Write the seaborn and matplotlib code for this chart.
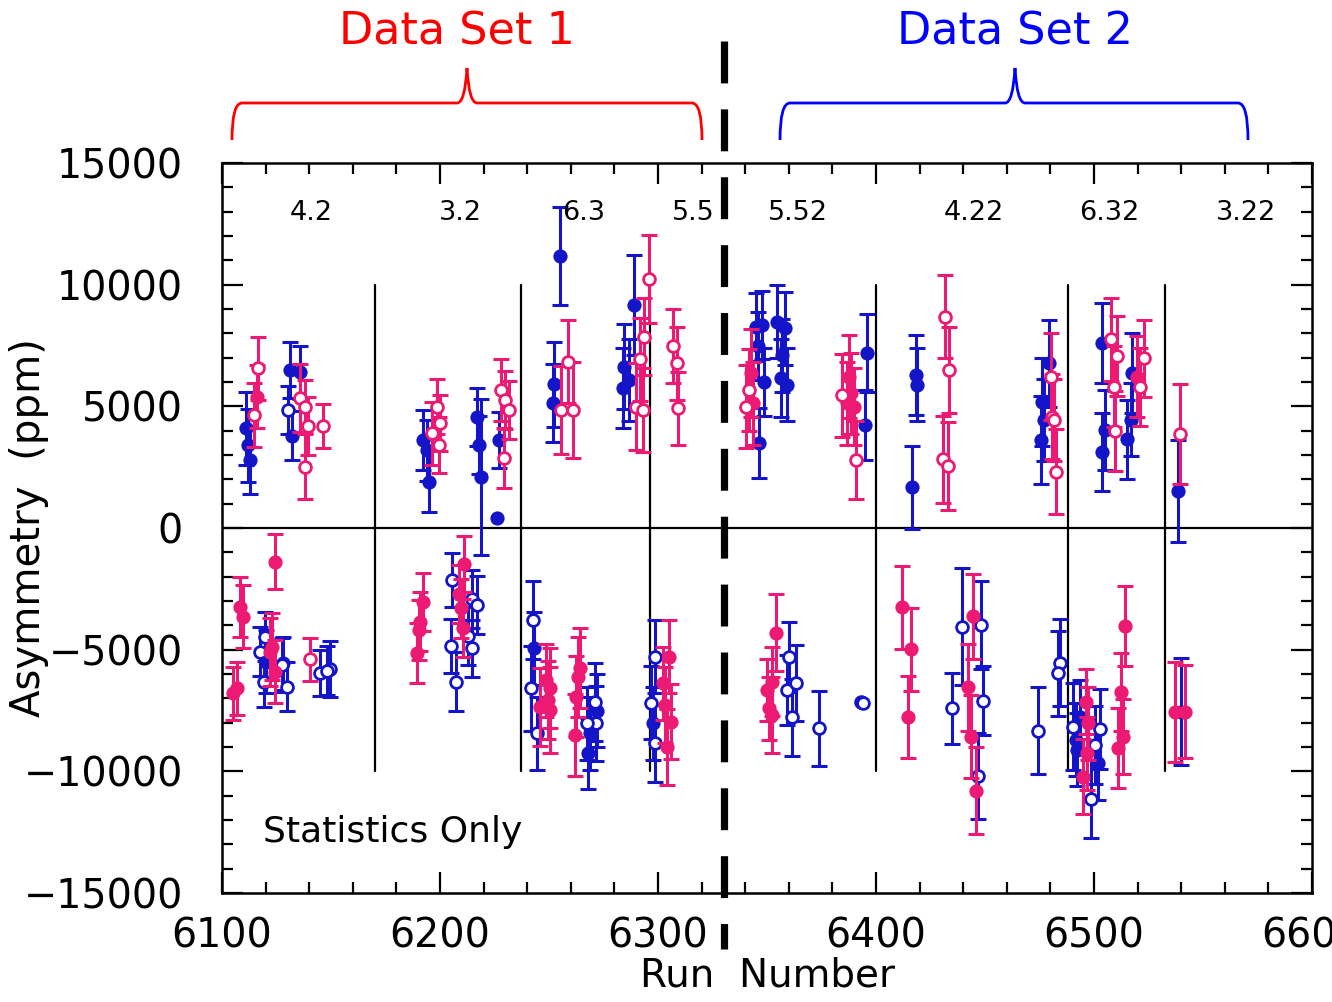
import numpy as np
import pandas as pd
import matplotlib
matplotlib.use("Agg")
import matplotlib.pyplot as plt
from matplotlib.path import Path
from matplotlib.patches import PathPatch
from matplotlib.ticker import MultipleLocator
import seaborn as sns

# ---- measurements: run number, asymmetry (ppm), statistical error (ppm) ----
blue_filled_run = [6111, 6112, 6113, 6131, 6136, 6132, 6192, 6194, 6195, 6217, 6218, 6219,
                   6226, 6227, 6255, 6252.5, 6252, 6289, 6284.5, 6284, 6286.5,
                   6346.4, 6345, 6347.7, 6346, 6348.7, 6354.8, 6358.4, 6357, 6356.4, 6359.4,
                   6396, 6394.8, 6418.2, 6418.9, 6416.3, 6475.5, 6476.2, 6477, 6479.3,
                   6503.7, 6503.7, 6505, 6517.5, 6516.8, 6515.2, 6538.5,
                   6120, 6128.2, 6243, 6268.6, 6267.8, 6272, 6297.6,
                   6491.8, 6493.4, 6492, 6502, 6540]
blue_filled_asym = [4100, 3400, 2800, 6500, 6400, 3800, 3600, 3200, 1900, 4570, 3400, 2100,
                    400, 3600, 11180, 5900, 5150, 9160, 6630, 5740, 6080,
                    3500, 8270, 8340, 7480, 6010, 8480, 8200, 7100, 6150, 5880,
                    7200, 4230, 6290, 5880, 1670, 3620, 5190, 4440, 6770,
                    7590, 3140, 4030, 6380, 4440, 3640, 1530,
                    -5490, -5560, -4940, -8440, -9260, -7500, -8030,
                    -8710, -7750, -9120, -9670, -7550]
blue_filled_err = [1500, 1500, 1400, 1150, 1100, 1000, 1230, 1250, 1250, 1200, 1200, 3200,
                   0, 1150, 2000, 1750, 1600, 2050, 1750, 1650, 1700,
                   1450, 1400, 1400, 1400, 1400, 1500, 1500, 1500, 1600, 1500,
                   1600, 1450, 1650, 1500, 1700, 1800, 1800, 1700, 1780,
                   1650, 1600, 1650, 1650, 1500, 1630, 2100,
                   1300, 1100, 1500, 1500, 1450, 1500, 1500,
                   1500, 1500, 1500, 1500, 2200]

blue_open_run = [6130.2,
                 6117.6, 6119.1, 6119.6, 6127.5, 6129.8, 6145, 6149.6, 6148,
                 6205.4, 6205.1, 6207.4, 6214.5, 6216.8, 6213, 6214.9,
                 6242.6, 6241.9, 6244.5, 6270.9, 6271.6, 6267.3, 6298.4, 6296.8, 6298.4,
                 6360.2, 6359.4, 6363.2, 6361.3, 6373.9, 6393, 6394,
                 6434.7, 6439.6, 6448.1, 6448.9, 6446.6, 6474.5, 6484.2, 6483.7,
                 6490.3, 6498.7, 6500.3, 6502.6]
blue_open_asym = [4850,
                  -5080, -6310, -4470, -5630, -6520, -5970, -5810, -5860,
                  -2140, -4850, -6310, -2930, -3160, -4440, -4940,
                  -3780, -6590, -8440, -7140, -8030, -8030, -5290, -7180, -8850,
                  -5310, -6660, -6380, -7780, -8230, -7150, -7200,
                  -7410, -4050, -3990, -7090, -10190, -8330, -5530, -5970,
                  -8160, -11150, -8920, -8270]
blue_open_err = [1000,
                 1000, 1030, 1000, 1100, 1000, 950, 1150, 1000,
                 1100, 1120, 1200, 1200, 1200, 1200, 1170,
                 1600, 1740, 1500, 1600, 1550, 1500, 1500, 1500, 1580,
                 1450, 1450, 1570, 1590, 1550, 0, 0,
                 1460, 2400, 1820, 1420, 1780, 1800, 1780, 1750,
                 1800, 1600, 1600, 1650]

pink_filled_run = [6116,
                   6342.6, 6343.4, 6387.6, 6388.4, 6386.9, 6390, 6519.8,
                   6108.4, 6109.5, 6106.9, 6105, 6124.1, 6122.9, 6122, 6124.4,
                   6192.4, 6190.9, 6190.5, 6189.3, 6211.2, 6208.7, 6209.7, 6210.7,
                   6248.7, 6250.3, 6249.5, 6250.3, 6246, 6264, 6263.2, 6262.2, 6261.7,
                   6305.2, 6302.2, 6303, 6306, 6304,
                   6354.1, 6350.2, 6352.5, 6351, 6352.5, 6411.8, 6415.9, 6414.8,
                   6442.4, 6444.6, 6443.5, 6445.8, 6496.4, 6497.2, 6496.9, 6494.9,
                   6514.1, 6512.3, 6513.3, 6511, 6537.1, 6541.7]
pink_filled_asym = [5400,
                    6360, 5120, 6220, 5530, 5120, 4990, 6220,
                    -3260, -3640, -6590, -6800, -1380, -4880, -5080, -5900,
                    -3030, -3850, -4190, -5120, -1490, -2710, -3300, -4120,
                    -6250, -6590, -7070, -7480, -7340, -5770, -6110, -6930, -8510,
                    -5290, -6380, -7270, -7960, -8990,
                    -4300, -6660, -6310, -7410, -7680, -3260, -4990, -7780,
                    -6550, -3620, -8570, -10790, -7140, -8030, -9260, -10220,
                    -4030, -6730, -8570, -9050, -7550, -7550]
pink_filled_err = [1300,
                   1800, 1700, 1700, 1650, 1700, 1580, 1650,
                   1230, 1300, 1100, 1100, 1130, 1370, 1400, 1300,
                   1200, 1200, 1250, 1230, 1160, 1200, 1200, 1200,
                   1500, 1640, 1600, 1780, 1600, 1640, 1650, 1650, 1690,
                   1500, 1500, 1550, 1550, 1570,
                   1590, 1260, 1400, 1300, 1550, 1700, 1690, 1690,
                   1780, 1750, 1700, 1780, 1340, 1500, 1500, 1530,
                   1640, 1600, 1550, 1640, 2050, 1920]

pink_open_run = [6114.5, 6116.5, 6135.9, 6137.9, 6139.4, 6138.2, 6146.3,
                 6196.5, 6198.5, 6200, 6199.6, 6227.9, 6230, 6231.6, 6229.2,
                 6258.6, 6255.6, 6261.2, 6293.8, 6291.8, 6289.7, 6293, 6296,
                 6306.8, 6308.6, 6309.1,
                 6340.3, 6341.9, 6384.6, 6390.7, 6431.7, 6433.5, 6430.8, 6433.2,
                 6480.1, 6480.8, 6481.5, 6482.6, 6507.6, 6510.7, 6509.2, 6509.6,
                 6522.8, 6521.3, 6539.6,
                 6140.2]
pink_open_asym = [4640, 6560, 5330, 4990, 4190, 2520, 4190,
                  3890, 4990, 4330, 3410, 5670, 5260, 4850, 2860,
                  6830, 4850, 4850, 7860, 6930, 4990, 4850, 10230,
                  7480, 6770, 4920,
                  4990, 5670, 5460, 2790, 8680, 6490, 2820, 2550,
                  6220, 4570, 4440, 2310, 7750, 7070, 5810, 4000,
                  6970, 5810, 3860,
                  -5400]
pink_open_err = [1300, 1300, 1400, 1100, 1200, 1340, 920,
                 1300, 1120, 1150, 1160, 1260, 1200, 1200, 1230,
                 1710, 1800, 1990, 1580, 1700, 1800, 1710, 1810,
                 1510, 1500, 1510,
                 1700, 1700, 1700, 1610, 1710, 1780, 1780, 1800,
                 1780, 1750, 1700, 1750, 1690, 1640, 1650, 1640,
                 1570, 1600, 2060,
                 900]

# run-period boundaries and the Wien-angle labels above each period
boundary_runs = [6170, 6237, 6296.5, 6400, 6488, 6532.5]
split_run = 6330.5
period_labels = ["4.2", "3.2", "6.3", "5.5", "5.52", "4.22", "6.32", "3.22"]
period_label_runs = [6141, 6209.5, 6266, 6316, 6364, 6445, 6507, 6569.5]

BLUE = "#1414c8"
PINK = "#ec1a72"

frames = []
for name, xs, ys, es in [("blue_filled", blue_filled_run, blue_filled_asym, blue_filled_err),
                         ("blue_open", blue_open_run, blue_open_asym, blue_open_err),
                         ("pink_filled", pink_filled_run, pink_filled_asym, pink_filled_err),
                         ("pink_open", pink_open_run, pink_open_asym, pink_open_err)]:
    frames.append(pd.DataFrame({"run": xs, "asym": ys, "err": es, "series": name}))
df = pd.concat(frames, ignore_index=True)

sns.set_theme(style="ticks")
plt.rcParams["font.family"] = ["DejaVu Sans"]

W, H = 1332, 1002
fig = plt.figure(figsize=(W / 100, H / 100), dpi=100)
ax = fig.add_axes([222 / W, 1 - 893 / H, (1312 - 222) / W, (893 - 163) / H])

ax.set_xlim(6100, 6600)
ax.set_ylim(-15000, 15000)

# zero line and period boundaries
ax.axhline(0, color="black", lw=1.6, zorder=1)
for b in boundary_runs:
    ax.plot([b, b], [-10000, 10000], color="black", lw=1.6, zorder=1)

styles = {
    "blue_filled": dict(color=BLUE, filled=True),
    "blue_open": dict(color=BLUE, filled=False),
    "pink_filled": dict(color=PINK, filled=True),
    "pink_open": dict(color=PINK, filled=False),
}
z = 3
for name in ["blue_filled", "blue_open", "pink_filled", "pink_open"]:
    sub = df[df["series"] == name]
    st = styles[name]
    has_err = sub["err"] > 0
    ax.errorbar(sub["run"][has_err], sub["asym"][has_err], yerr=sub["err"][has_err],
                fmt="none", ecolor=st["color"], elinewidth=2.2, capsize=6,
                capthick=2.2, zorder=z)
    if st["filled"]:
        sns.scatterplot(data=sub, x="run", y="asym", ax=ax, color=st["color"],
                        s=105, edgecolor=st["color"], linewidth=0, zorder=z + 1,
                        legend=False)
    else:
        sns.scatterplot(data=sub, x="run", y="asym", ax=ax, facecolor="white",
                        edgecolor=st["color"], s=72, linewidth=2.0, zorder=z + 1,
                        legend=False)
    z += 2

# period labels
for lab, xr in zip(period_labels, period_label_runs):
    ax.text(xr, 12950, lab, ha="center", va="center", fontsize=19.5, color="black")

ax.text(6119, -12500, "Statistics Only", ha="left", va="center", fontsize=26,
        color="black")

# thick dashed divider between the two data sets
ax.plot([split_run, split_run], [20000, -17300], color="black", lw=5.2,
        linestyle=(0, (5.8, 3.6)), clip_on=False, zorder=10)

# axes styling
for sp in ax.spines.values():
    sp.set_linewidth(1.8)
    sp.set_color("black")
ax.xaxis.set_major_locator(MultipleLocator(100))
ax.xaxis.set_minor_locator(MultipleLocator(20))
ax.yaxis.set_major_locator(MultipleLocator(5000))
ax.yaxis.set_minor_locator(MultipleLocator(1000))
ax.tick_params(which="both", direction="in", top=True, right=True, color="black",
               width=1.6)
ax.tick_params(which="major", length=15, labelsize=28.5, labelcolor="black")
ax.tick_params(which="minor", length=8)
ax.tick_params(axis="x", which="major", pad=17)
ax.tick_params(axis="y", which="major", pad=28)
ax.set_yticks([15000, 10000, 5000, 0, -5000, -10000, -15000])
ax.set_yticklabels(["15000", "10000", "5000", "0", "\u22125000", "\u221210000", "\u221215000"])
ax.set_xticks([6100, 6200, 6300, 6400, 6500, 6600])
ax.set_xticklabels(["6100", "6200", "6300", "6400", "6500", "6600"])
ax.set_xlabel("Run  Number", fontsize=28, color="black", labelpad=0)
ax.set_ylabel("Asymmetry  (ppm)", fontsize=29, color="black", labelpad=-18)
ax.grid(False)


def brace(x0, xm, x1, y_bar, y_end, y_tip, color):
    """Curly brace drawn in figure pixel coordinates (origin top-left)."""
    def p(x, y):
        return (x / W, 1 - y / H)
    r = 10
    verts = [p(x0, y_end), p(x0, y_bar), p(x0 + r, y_bar),
             p(xm - r, y_bar), p(xm - 2, y_bar), p(xm, y_tip),
             p(xm + 2, y_bar), p(xm + r, y_bar),
             p(x1 - r, y_bar), p(x1, y_bar), p(x1, y_end)]
    codes = [Path.MOVETO, Path.CURVE3, Path.CURVE3,
             Path.LINETO, Path.CURVE3, Path.CURVE3,
             Path.CURVE3, Path.CURVE3,
             Path.LINETO, Path.CURVE3, Path.CURVE3]
    patch = PathPatch(Path(verts, codes), transform=fig.transFigure, fill=False,
                      edgecolor=color, lw=2.0)
    fig.patches.append(patch)


brace(232, 467, 702, 103, 140, 68, "#ff0000")
brace(780, 1015, 1248, 103, 140, 68, "#0000ff")

fig.text(457 / W, 1 - 32 / H, "Data Set 1", ha="center", va="center", fontsize=32,
         color="#ff0000")
fig.text(1015 / W, 1 - 32 / H, "Data Set 2", ha="center", va="center", fontsize=32,
         color="#0000ff")

fig.savefig("out.png", dpi=100)
